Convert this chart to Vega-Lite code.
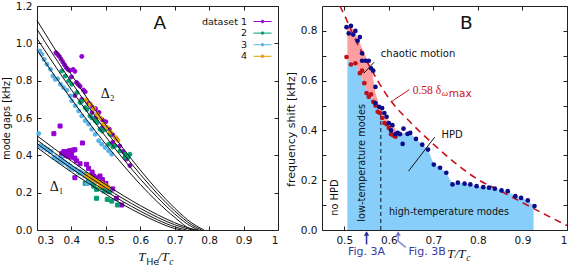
{
"$schema": "https://vega.github.io/schema/vega-lite/v6.json",
"background": "white",
"padding": {"left": 0, "top": 0, "right": 6, "bottom": 2},
"bounds": "flush",
"spacing": 44,
"resolve": {"scale": {"color": "independent", "fill": "independent", "shape": "independent"}, "legend": {"color": "independent"}},
"config": {
  "font": "DejaVu Sans",
  "view": {"stroke": "#222", "strokeWidth": 1},
  "axis": {"domain": false, "grid": false, "ticks": true, "tickSize": -4, "tickColor": "#222", "labelPadding": 9, "labelFont": "DejaVu Sans", "labelFontSize": 10.5, "labelColor": "#111", "titleFont": "DejaVu Sans", "titleFontWeight": "normal", "titleColor": "#111", "titleFontSize": 10, "titlePadding": 4}
},
"hconcat": [
{
  "width": 241, "height": 224,
  "resolve": {"axis": {"x": "independent", "y": "independent"}},
  "layer": [
    {
      "data": {"values": [
        {"x":0.355,"y":0.95,"set":"1","kind":"c"},{"x":0.36,"y":0.94,"set":"1","kind":"c"},{"x":0.365,"y":0.93,"set":"1","kind":"c"},{"x":0.37,"y":0.915,"set":"1","kind":"c"},{"x":0.375,"y":0.9,"set":"1","kind":"c"},{"x":0.38,"y":0.885,"set":"1","kind":"c"},{"x":0.385,"y":0.87,"set":"1","kind":"c"},{"x":0.39,"y":0.86,"set":"1","kind":"c"},{"x":0.395,"y":0.855,"set":"1","kind":"c"},{"x":0.405,"y":0.86,"set":"1","kind":"c"},{"x":0.41,"y":0.85,"set":"1","kind":"c"},{"x":0.4,"y":0.82,"set":"1","kind":"c"},{"x":0.43,"y":0.93,"set":"1","kind":"c"},{"x":0.415,"y":0.79,"set":"1","kind":"c"},{"x":0.42,"y":0.78,"set":"1","kind":"c"},{"x":0.425,"y":0.77,"set":"1","kind":"c"},{"x":0.435,"y":0.75,"set":"1","kind":"c"},{"x":0.44,"y":0.74,"set":"1","kind":"c"},{"x":0.41,"y":0.72,"set":"1","kind":"c"},{"x":0.43,"y":0.7,"set":"1","kind":"c"},{"x":0.45,"y":0.68,"set":"1","kind":"c"},{"x":0.46,"y":0.66,"set":"1","kind":"c"},{"x":0.47,"y":0.65,"set":"1","kind":"c"},{"x":0.46,"y":0.63,"set":"1","kind":"c"},{"x":0.48,"y":0.63,"set":"1","kind":"c"},{"x":0.47,"y":0.6,"set":"1","kind":"c"},{"x":0.49,"y":0.59,"set":"1","kind":"c"},{"x":0.5,"y":0.58,"set":"1","kind":"c"},{"x":0.49,"y":0.55,"set":"1","kind":"c"},{"x":0.51,"y":0.54,"set":"1","kind":"c"},{"x":0.52,"y":0.51,"set":"1","kind":"c"},{"x":0.53,"y":0.49,"set":"1","kind":"c"},{"x":0.52,"y":0.47,"set":"1","kind":"c"},{"x":0.54,"y":0.45,"set":"1","kind":"c"},{"x":0.55,"y":0.42,"set":"1","kind":"c"},{"x":0.56,"y":0.38,"set":"1","kind":"c"},{"x":0.57,"y":0.345,"set":"1","kind":"c"},
        {"x":0.372,"y":0.852,"set":"2","kind":"c"},{"x":0.382,"y":0.825,"set":"2","kind":"c"},{"x":0.392,"y":0.799,"set":"2","kind":"c"},{"x":0.401,"y":0.781,"set":"2","kind":"c"},{"x":0.416,"y":0.736,"set":"2","kind":"c"},{"x":0.425,"y":0.683,"set":"2","kind":"c"},{"x":0.43,"y":0.69,"set":"2","kind":"c"},{"x":0.44,"y":0.656,"set":"2","kind":"c"},{"x":0.445,"y":0.645,"set":"2","kind":"c"},{"x":0.454,"y":0.611,"set":"2","kind":"c"},{"x":0.46,"y":0.6,"set":"2","kind":"c"},{"x":0.469,"y":0.585,"set":"2","kind":"c"},{"x":0.475,"y":0.575,"set":"2","kind":"c"},{"x":0.483,"y":0.54,"set":"2","kind":"c"},{"x":0.49,"y":0.53,"set":"2","kind":"c"},{"x":0.498,"y":0.54,"set":"2","kind":"c"},{"x":0.512,"y":0.513,"set":"2","kind":"c"},{"x":0.508,"y":0.46,"set":"2","kind":"c"},{"x":0.52,"y":0.445,"set":"2","kind":"c"},{"x":0.527,"y":0.451,"set":"2","kind":"c"},{"x":0.541,"y":0.424,"set":"2","kind":"c"},{"x":0.556,"y":0.406,"set":"2","kind":"c"},{"x":0.555,"y":0.39,"set":"2","kind":"c"},{"x":0.565,"y":0.389,"set":"2","kind":"c"},{"x":0.57,"y":0.406,"set":"2","kind":"c"},
        {"x":0.308,"y":0.959,"set":"3","kind":"c"},{"x":0.314,"y":0.941,"set":"3","kind":"c"},{"x":0.321,"y":0.914,"set":"3","kind":"c"},{"x":0.329,"y":0.888,"set":"3","kind":"c"},{"x":0.339,"y":0.861,"set":"3","kind":"c"},{"x":0.346,"y":0.825,"set":"3","kind":"c"},{"x":0.353,"y":0.807,"set":"3","kind":"c"},{"x":0.36,"y":0.81,"set":"3","kind":"c"},{"x":0.368,"y":0.781,"set":"3","kind":"c"},{"x":0.377,"y":0.763,"set":"3","kind":"c"},{"x":0.387,"y":0.749,"set":"3","kind":"c"},{"x":0.397,"y":0.718,"set":"3","kind":"c"},{"x":0.401,"y":0.692,"set":"3","kind":"c"},{"x":0.411,"y":0.665,"set":"3","kind":"c"},{"x":0.421,"y":0.638,"set":"3","kind":"c"},{"x":0.43,"y":0.611,"set":"3","kind":"c"},{"x":0.44,"y":0.585,"set":"3","kind":"c"},{"x":0.45,"y":0.567,"set":"3","kind":"c"},{"x":0.459,"y":0.54,"set":"3","kind":"c"},{"x":0.469,"y":0.513,"set":"3","kind":"c"},{"x":0.479,"y":0.478,"set":"3","kind":"c"},{"x":0.488,"y":0.46,"set":"3","kind":"c"},{"x":0.498,"y":0.442,"set":"3","kind":"c"},{"x":0.508,"y":0.424,"set":"3","kind":"c"},{"x":0.517,"y":0.406,"set":"3","kind":"c"},{"x":0.305,"y":0.517,"set":"3","kind":"c"},
        {"x":0.443,"y":0.697,"set":"4","kind":"c"},{"x":0.455,"y":0.675,"set":"4","kind":"c"},{"x":0.465,"y":0.65,"set":"4","kind":"c"},{"x":0.474,"y":0.62,"set":"4","kind":"c"},{"x":0.484,"y":0.6,"set":"4","kind":"c"},{"x":0.493,"y":0.567,"set":"4","kind":"c"},{"x":0.503,"y":0.55,"set":"4","kind":"c"},{"x":0.513,"y":0.525,"set":"4","kind":"c"},{"x":0.527,"y":0.496,"set":"4","kind":"c"},{"x":0.535,"y":0.48,"set":"4","kind":"c"},
        {"x":0.349,"y":0.516,"set":"1","kind":"s"},{"x":0.367,"y":0.557,"set":"1","kind":"s"},{"x":0.432,"y":0.466,"set":"1","kind":"s"},{"x":0.41,"y":0.43,"set":"1","kind":"s"},{"x":0.372,"y":0.41,"set":"1","kind":"s"},{"x":0.378,"y":0.42,"set":"1","kind":"s"},{"x":0.385,"y":0.415,"set":"1","kind":"s"},{"x":0.39,"y":0.42,"set":"1","kind":"s"},{"x":0.395,"y":0.425,"set":"1","kind":"s"},{"x":0.4,"y":0.41,"set":"1","kind":"s"},{"x":0.405,"y":0.428,"set":"1","kind":"s"},{"x":0.38,"y":0.4,"set":"1","kind":"s"},{"x":0.39,"y":0.395,"set":"1","kind":"s"},{"x":0.4,"y":0.39,"set":"1","kind":"s"},{"x":0.41,"y":0.385,"set":"1","kind":"s"},{"x":0.415,"y":0.37,"set":"1","kind":"s"},{"x":0.425,"y":0.355,"set":"1","kind":"s"},{"x":0.444,"y":0.352,"set":"1","kind":"s"},{"x":0.45,"y":0.33,"set":"1","kind":"s"},{"x":0.46,"y":0.31,"set":"1","kind":"s"},{"x":0.464,"y":0.289,"set":"1","kind":"s"},{"x":0.475,"y":0.28,"set":"1","kind":"s"},{"x":0.483,"y":0.289,"set":"1","kind":"s"},{"x":0.49,"y":0.27,"set":"1","kind":"s"},{"x":0.5,"y":0.25,"set":"1","kind":"s"},{"x":0.459,"y":0.253,"set":"1","kind":"s"},{"x":0.41,"y":0.28,"set":"1","kind":"s"},{"x":0.507,"y":0.209,"set":"1","kind":"s"},{"x":0.52,"y":0.22,"set":"1","kind":"s"},{"x":0.531,"y":0.17,"set":"1","kind":"s"},{"x":0.546,"y":0.134,"set":"1","kind":"s"},
        {"x":0.425,"y":0.307,"set":"2","kind":"s"},{"x":0.44,"y":0.298,"set":"2","kind":"s"},{"x":0.45,"y":0.27,"set":"2","kind":"s"},{"x":0.455,"y":0.255,"set":"2","kind":"s"},{"x":0.465,"y":0.235,"set":"2","kind":"s"},{"x":0.473,"y":0.218,"set":"2","kind":"s"},{"x":0.488,"y":0.227,"set":"2","kind":"s"},{"x":0.495,"y":0.21,"set":"2","kind":"s"},{"x":0.51,"y":0.205,"set":"2","kind":"s"},{"x":0.473,"y":0.17,"set":"2","kind":"s"},{"x":0.504,"y":0.164,"set":"2","kind":"s"},{"x":0.517,"y":0.155,"set":"2","kind":"s"},{"x":0.534,"y":0.134,"set":"2","kind":"s"},{"x":0.44,"y":0.25,"set":"2","kind":"s"},
        {"x":0.31,"y":0.45,"set":"3","kind":"s"},{"x":0.32,"y":0.44,"set":"3","kind":"s"},{"x":0.33,"y":0.43,"set":"3","kind":"s"},{"x":0.34,"y":0.42,"set":"3","kind":"s"},{"x":0.35,"y":0.39,"set":"3","kind":"s"},{"x":0.36,"y":0.38,"set":"3","kind":"s"},{"x":0.365,"y":0.37,"set":"3","kind":"s"},{"x":0.37,"y":0.385,"set":"3","kind":"s"},{"x":0.375,"y":0.365,"set":"3","kind":"s"},{"x":0.38,"y":0.36,"set":"3","kind":"s"},{"x":0.39,"y":0.35,"set":"3","kind":"s"},{"x":0.395,"y":0.34,"set":"3","kind":"s"},{"x":0.4,"y":0.33,"set":"3","kind":"s"},{"x":0.41,"y":0.325,"set":"3","kind":"s"},{"x":0.42,"y":0.315,"set":"3","kind":"s"},{"x":0.43,"y":0.305,"set":"3","kind":"s"},{"x":0.44,"y":0.29,"set":"3","kind":"s"},{"x":0.45,"y":0.28,"set":"3","kind":"s"},{"x":0.46,"y":0.265,"set":"3","kind":"s"},{"x":0.445,"y":0.25,"set":"3","kind":"s"},
        {"x":0.445,"y":0.29,"set":"4","kind":"s"},{"x":0.455,"y":0.28,"set":"4","kind":"s"},{"x":0.465,"y":0.27,"set":"4","kind":"s"},{"x":0.475,"y":0.26,"set":"4","kind":"s"},{"x":0.485,"y":0.25,"set":"4","kind":"s"},{"x":0.495,"y":0.24,"set":"4","kind":"s"},{"x":0.505,"y":0.23,"set":"4","kind":"s"},{"x":0.485,"y":0.235,"set":"4","kind":"s"}
      ]},
      "mark": {"type": "point", "filled": false, "size": 16, "strokeWidth": 1, "opacity": 1},
      "encoding": {
        "x": {"field": "x", "type": "quantitative", "scale": {"domain": [0.3, 1], "nice": false, "zero": false}, "axis": {"values": [0.3,0.4,0.5,0.6,0.7,0.8,0.9,1], "labelExpr": "datum.value == 1 ? '1' : format(datum.value, '.1f')", "title": null}},
        "y": {"field": "y", "type": "quantitative", "scale": {"domain": [0, 1.2], "nice": false, "zero": false}, "axis": {"values": [0,0.2,0.4,0.6,0.8,1,1.2], "format": ".1f", "title": "mode gaps [kHz]", "titleFontSize": 9.7}},
        "color": {"field": "set", "type": "nominal", "scale": {"domain": ["1","2","3","4"], "range": ["#9400d3","#009e73","#56b4e9","#e69f00"]},
          "legend": {"orient": "top-right", "title": " ", "titleFontSize": 1, "titlePadding": 4, "offset": 4, "padding": 0, "symbolType": "M-1.5,0H1.5M0.22,0A0.22,0.22,0,1,1,-0.22,0A0.22,0.22,0,1,1,0.22,0Z", "symbolSize": 144, "symbolStrokeWidth": 1, "labelAlign": "right", "labelOffset": -22, "labelFontSize": 9.5, "labelColor": "#111", "rowPadding": 0.6, "labelExpr": "datum.value == '1' ? 'dataset 1' : datum.value"}},
        "fill": {"field": "set", "type": "nominal", "scale": {"domain": ["1","2","3","4"], "range": ["#9400d3","#009e73","#56b4e9","#e69f00"]}, "legend": null},
        "shape": {"field": "kind", "type": "nominal", "scale": {"domain": ["c","s"], "range": ["circle","square"]}, "legend": null}
      }
    },
    {
      "data": {"values": [
        {"c":"a1","x":0.3,"y":1.123},{"c":"a1","x":0.35,"y":0.975},{"c":"a1","x":0.4,"y":0.832},{"c":"a1","x":0.45,"y":0.694},{"c":"a1","x":0.5,"y":0.563},{"c":"a1","x":0.55,"y":0.438},{"c":"a1","x":0.6,"y":0.321},{"c":"a1","x":0.65,"y":0.213},{"c":"a1","x":0.7,"y":0.117},{"c":"a1","x":0.75,"y":0.037},{"c":"a1","x":0.785,"y":0},
        {"c":"a2","x":0.3,"y":1.075},{"c":"a2","x":0.35,"y":0.931},{"c":"a2","x":0.4,"y":0.792},{"c":"a2","x":0.45,"y":0.659},{"c":"a2","x":0.5,"y":0.531},{"c":"a2","x":0.55,"y":0.411},{"c":"a2","x":0.6,"y":0.298},{"c":"a2","x":0.65,"y":0.194},{"c":"a2","x":0.7,"y":0.102},{"c":"a2","x":0.75,"y":0.027},{"c":"a2","x":0.778,"y":0},
        {"c":"a3","x":0.3,"y":1.025},{"c":"a3","x":0.35,"y":0.886},{"c":"a3","x":0.4,"y":0.751},{"c":"a3","x":0.45,"y":0.622},{"c":"a3","x":0.5,"y":0.499},{"c":"a3","x":0.55,"y":0.382},{"c":"a3","x":0.6,"y":0.273},{"c":"a3","x":0.65,"y":0.174},{"c":"a3","x":0.7,"y":0.086},{"c":"a3","x":0.75,"y":0.017},{"c":"a3","x":0.77,"y":0},
        {"c":"a4","x":0.3,"y":0.964},{"c":"a4","x":0.35,"y":0.83},{"c":"a4","x":0.4,"y":0.701},{"c":"a4","x":0.45,"y":0.577},{"c":"a4","x":0.5,"y":0.459},{"c":"a4","x":0.55,"y":0.348},{"c":"a4","x":0.6,"y":0.244},{"c":"a4","x":0.65,"y":0.15},{"c":"a4","x":0.7,"y":0.068},{"c":"a4","x":0.75,"y":0.003},{"c":"a4","x":0.76,"y":0},
        {"c":"b1","x":0.3,"y":0.505},{"c":"b1","x":0.35,"y":0.436},{"c":"b1","x":0.4,"y":0.369},{"c":"b1","x":0.45,"y":0.304},{"c":"b1","x":0.5,"y":0.243},{"c":"b1","x":0.55,"y":0.185},{"c":"b1","x":0.6,"y":0.131},{"c":"b1","x":0.65,"y":0.082},{"c":"b1","x":0.7,"y":0.039},{"c":"b1","x":0.75,"y":0.006},{"c":"b1","x":0.765,"y":0},
        {"c":"b2","x":0.3,"y":0.482},{"c":"b2","x":0.35,"y":0.414},{"c":"b2","x":0.4,"y":0.348},{"c":"b2","x":0.45,"y":0.285},{"c":"b2","x":0.5,"y":0.225},{"c":"b2","x":0.55,"y":0.168},{"c":"b2","x":0.6,"y":0.116},{"c":"b2","x":0.65,"y":0.068},{"c":"b2","x":0.7,"y":0.028},{"c":"b2","x":0.75,"y":0},
        {"c":"b3","x":0.3,"y":0.463},{"c":"b3","x":0.35,"y":0.395},{"c":"b3","x":0.4,"y":0.33},{"c":"b3","x":0.45,"y":0.267},{"c":"b3","x":0.5,"y":0.208},{"c":"b3","x":0.55,"y":0.152},{"c":"b3","x":0.6,"y":0.101},{"c":"b3","x":0.65,"y":0.055},{"c":"b3","x":0.7,"y":0.017},{"c":"b3","x":0.735,"y":0},
        {"c":"b4","x":0.3,"y":0.442},{"c":"b4","x":0.35,"y":0.375},{"c":"b4","x":0.4,"y":0.31},{"c":"b4","x":0.45,"y":0.249},{"c":"b4","x":0.5,"y":0.191},{"c":"b4","x":0.55,"y":0.136},{"c":"b4","x":0.6,"y":0.087},{"c":"b4","x":0.65,"y":0.043},{"c":"b4","x":0.7,"y":0.008},{"c":"b4","x":0.72,"y":0}
      ]},
      "mark": {"type": "line", "color": "#111", "strokeWidth": 1, "interpolate": "monotone"},
      "encoding": {
        "x": {"field": "x", "type": "quantitative", "scale": {"domain": [0.3, 1], "nice": false, "zero": false}, "axis": {"orient": "top", "values": [0.3,0.4,0.5,0.6,0.7,0.8,0.9,1], "labels": false, "title": null}},
        "y": {"field": "y", "type": "quantitative", "scale": {"domain": [0, 1.2], "nice": false, "zero": false}, "axis": {"orient": "right", "values": [0,0.2,0.4,0.6,0.8,1,1.2], "labels": false, "title": null}},
        "detail": {"field": "c", "type": "nominal"}
      }
    },
    {
      "data": {"values": [{"t": "A", "x": 0.657, "y": 1.111}]},
      "mark": {"type": "text", "fontSize": 18.5, "font": "DejaVu Sans", "align": "center", "baseline": "middle", "color": "#111"},
      "encoding": {"x": {"field": "x", "type": "quantitative", "axis": null}, "y": {"field": "y", "type": "quantitative", "axis": null}, "text": {"field": "t"}}
    },
    {
      "data": {"values": [{"t": "Δ₂", "x": 0.505, "y": 0.731}, {"t": "Δ₁", "x": 0.357, "y": 0.23}]},
      "mark": {"type": "text", "fontSize": 14, "font": "Liberation Serif", "align": "center", "baseline": "middle", "color": "#111"},
      "encoding": {"x": {"field": "x", "type": "quantitative", "axis": null}, "y": {"field": "y", "type": "quantitative", "axis": null}, "text": {"field": "t"}}
    },
    {
      "data": {"values": [{"t": "T", "x": 0.594, "y": -0.166}, {"t": "/T", "x": 0.651, "y": -0.166}]},
      "mark": {"type": "text", "fontSize": 13, "font": "Liberation Serif", "fontStyle": "italic", "align": "left", "baseline": "alphabetic", "color": "#111"},
      "encoding": {"x": {"field": "x", "type": "quantitative", "axis": null}, "y": {"field": "y", "type": "quantitative", "axis": null}, "text": {"field": "t"}}
    },
    {
      "data": {"values": [{"t": "He", "x": 0.617, "y": -0.186}]},
      "mark": {"type": "text", "fontSize": 9.5, "font": "DejaVu Sans", "align": "left", "baseline": "alphabetic", "color": "#111"},
      "encoding": {"x": {"field": "x", "type": "quantitative", "axis": null}, "y": {"field": "y", "type": "quantitative", "axis": null}, "text": {"field": "t"}}
    },
    {
      "data": {"values": [{"t": "c", "x": 0.684, "y": -0.186}]},
      "mark": {"type": "text", "fontSize": 9.5, "font": "Liberation Serif", "fontStyle": "italic", "align": "left", "baseline": "alphabetic", "color": "#111"},
      "encoding": {"x": {"field": "x", "type": "quantitative", "axis": null}, "y": {"field": "y", "type": "quantitative", "axis": null}, "text": {"field": "t"}}
    }
  ]
},
{
  "width": 245, "height": 224,
  "resolve": {"axis": {"x": "independent", "y": "independent"}},
  "layer": [
    {
      "data": {"name": "areaB", "values": [
        {"x":0.507,"lo":0.69,"hi":0.815},{"x":0.515,"lo":0.665,"hi":0.82},{"x":0.525,"lo":0.665,"hi":0.79},{"x":0.535,"lo":0.63,"hi":0.75},{"x":0.545,"lo":0.59,"hi":0.71},{"x":0.555,"lo":0.54,"hi":0.67},{"x":0.563,"lo":0.53,"hi":0.63},{"x":0.57,"lo":0.5,"hi":0.55},{"x":0.578,"lo":0.48,"hi":0.5},{"x":0.59,"lo":0.43,"hi":0.465},{"x":0.6,"lo":0.41,"hi":0.44},{"x":0.61,"lo":0.38,"hi":0.42},{"x":0.62,"lo":0.38,"hi":0.39},{"x":0.635,"lo":0.39,"hi":0.39},{"x":0.648,"lo":0.39,"hi":0.39},{"x":0.661,"lo":0.366,"hi":0.366},{"x":0.675,"lo":0.343,"hi":0.343},{"x":0.688,"lo":0.323,"hi":0.323},{"x":0.701,"lo":0.263,"hi":0.263},{"x":0.715,"lo":0.25,"hi":0.25},{"x":0.729,"lo":0.23,"hi":0.23},{"x":0.743,"lo":0.183,"hi":0.183},{"x":0.755,"lo":0.19,"hi":0.19},{"x":0.77,"lo":0.186,"hi":0.186},{"x":0.783,"lo":0.183,"hi":0.183},{"x":0.797,"lo":0.176,"hi":0.176},{"x":0.812,"lo":0.172,"hi":0.172},{"x":0.825,"lo":0.17,"hi":0.17},{"x":0.838,"lo":0.166,"hi":0.166},{"x":0.853,"lo":0.159,"hi":0.159},{"x":0.867,"lo":0.156,"hi":0.156},{"x":0.884,"lo":0.136,"hi":0.136},{"x":0.897,"lo":0.129,"hi":0.129},{"x":0.912,"lo":0.119,"hi":0.119},{"x":0.925,"lo":0.096,"hi":0.096}
      ]},
      "mark": {"type": "area", "color": "#87cefa", "opacity": 1},
      "encoding": {
        "x": {"field": "x", "type": "quantitative", "scale": {"domain": [0.45, 1], "nice": false, "zero": false}, "axis": {"values": [0.5,0.6,0.7,0.8,0.9,1], "labelExpr": "datum.value == 1 ? '1' : format(datum.value, '.1f')", "title": null}},
        "y": {"field": "lo", "type": "quantitative", "scale": {"domain": [0, 0.9], "nice": false, "zero": false}, "axis": {"values": [0,0.1,0.2,0.3,0.4,0.5,0.6,0.7,0.8], "labelExpr": "round(datum.value*10) % 2 == 0 ? format(datum.value, '.1f') : ''", "title": "frequency shift [kHz]", "titleFontSize": 11, "titleY": 123}},
        "y2": {"datum": 0}
      }
    },
    {
      "data": {"name": "areaB"},
      "mark": {"type": "area", "color": "#ff9e9e", "opacity": 1},
      "encoding": {
        "x": {"field": "x", "type": "quantitative", "axis": null},
        "y": {"field": "hi", "type": "quantitative", "axis": null},
        "y2": {"field": "lo"}
      }
    },
    {
      "data": {"values": [
        {"x":0.49,"y":0.9},{"x":0.5,"y":0.865},{"x":0.525,"y":0.765},{"x":0.55,"y":0.68},{"x":0.575,"y":0.6},{"x":0.6,"y":0.53},{"x":0.65,"y":0.43},{"x":0.7,"y":0.345},{"x":0.75,"y":0.268},{"x":0.8,"y":0.203},{"x":0.85,"y":0.157},{"x":0.9,"y":0.11},{"x":0.95,"y":0.063},{"x":1.0,"y":0.018}
      ]},
      "mark": {"type": "line", "color": "#c8101a", "strokeWidth": 1.6, "strokeDash": [7, 5], "interpolate": "monotone"},
      "encoding": {
        "x": {"field": "x", "type": "quantitative", "scale": {"domain": [0.45, 1], "nice": false, "zero": false}, "axis": {"orient": "top", "values": [0.5,0.6,0.7,0.8,0.9,1], "labels": false, "title": null}},
        "y": {"field": "y", "type": "quantitative", "scale": {"domain": [0, 0.9], "nice": false, "zero": false}, "axis": {"orient": "right", "values": [0,0.1,0.2,0.3,0.4,0.5,0.6,0.7,0.8], "labels": false, "title": null}}
      }
    },
    {
      "data": {"values": [{"x": 0.582, "y": 0, "y2": 0.47}]},
      "mark": {"type": "rule", "color": "#111", "strokeWidth": 1, "strokeDash": [4, 3]},
      "encoding": {"x": {"field": "x", "type": "quantitative", "axis": null}, "y": {"field": "y", "type": "quantitative", "axis": null}, "y2": {"field": "y2"}}
    },
    {
      "data": {"values": [
        {"x":0.505,"y":0.695},{"x":0.515,"y":0.665},{"x":0.525,"y":0.67},{"x":0.535,"y":0.63},{"x":0.54,"y":0.64},{"x":0.545,"y":0.59},{"x":0.55,"y":0.55},{"x":0.555,"y":0.535},{"x":0.56,"y":0.545},{"x":0.565,"y":0.515},{"x":0.57,"y":0.5},{"x":0.575,"y":0.475},{"x":0.58,"y":0.47},{"x":0.585,"y":0.45},{"x":0.59,"y":0.43},{"x":0.595,"y":0.425},{"x":0.6,"y":0.41},{"x":0.605,"y":0.385},{"x":0.61,"y":0.38},{"x":0.615,"y":0.375}
      ]},
      "mark": {"type": "point", "filled": true, "size": 22, "color": "#b8141c", "opacity": 1},
      "encoding": {"x": {"field": "x", "type": "quantitative", "axis": null}, "y": {"field": "y", "type": "quantitative", "axis": null}}
    },
    {
      "data": {"values": [
        {"x":0.505,"y":0.815},{"x":0.515,"y":0.82},{"x":0.51,"y":0.79},{"x":0.525,"y":0.8},{"x":0.52,"y":0.785},{"x":0.53,"y":0.76},{"x":0.535,"y":0.775},{"x":0.54,"y":0.71},{"x":0.54,"y":0.68},{"x":0.548,"y":0.68},{"x":0.555,"y":0.68},{"x":0.56,"y":0.65},{"x":0.565,"y":0.64},{"x":0.57,"y":0.575},{"x":0.57,"y":0.51},{"x":0.578,"y":0.495},{"x":0.585,"y":0.49},{"x":0.59,"y":0.47},{"x":0.595,"y":0.455},{"x":0.6,"y":0.43},{"x":0.605,"y":0.4},{"x":0.608,"y":0.421},{"x":0.615,"y":0.385},{"x":0.62,"y":0.39},{"x":0.625,"y":0.385},{"x":0.631,"y":0.346},{"x":0.633,"y":0.407},{"x":0.642,"y":0.386},{"x":0.648,"y":0.39},{"x":0.661,"y":0.366},{"x":0.675,"y":0.343},{"x":0.688,"y":0.323},{"x":0.701,"y":0.263},{"x":0.715,"y":0.25},{"x":0.729,"y":0.23},{"x":0.743,"y":0.183},{"x":0.755,"y":0.19},{"x":0.77,"y":0.186},{"x":0.783,"y":0.183},{"x":0.797,"y":0.176},{"x":0.812,"y":0.172},{"x":0.825,"y":0.17},{"x":0.838,"y":0.166},{"x":0.853,"y":0.159},{"x":0.867,"y":0.156},{"x":0.884,"y":0.136},{"x":0.897,"y":0.129},{"x":0.912,"y":0.119},{"x":0.927,"y":0.096}
      ]},
      "mark": {"type": "point", "filled": true, "size": 22, "color": "#0b0b8c", "opacity": 1},
      "encoding": {"x": {"field": "x", "type": "quantitative", "axis": null}, "y": {"field": "y", "type": "quantitative", "axis": null}}
    },
    {
      "data": {"values": [{"x": 0.544, "y": 0.63, "x2": 0.567, "y2": 0.674}, {"x": 0.644, "y": 0.236, "x2": 0.703, "y2": 0.373}]},
      "mark": {"type": "rule", "color": "#111", "strokeWidth": 1},
      "encoding": {"x": {"field": "x", "type": "quantitative", "axis": null}, "y": {"field": "y", "type": "quantitative", "axis": null}, "x2": {"field": "x2"}, "y2": {"field": "y2"}}
    },
    {
      "data": {"values": [{"x": 0.607, "y": 0.517, "x2": 0.646, "y2": 0.564}]},
      "mark": {"type": "rule", "color": "#c8101a", "strokeWidth": 1},
      "encoding": {"x": {"field": "x", "type": "quantitative", "axis": null}, "y": {"field": "y", "type": "quantitative", "axis": null}, "x2": {"field": "x2"}, "y2": {"field": "y2"}}
    },
    {
      "data": {"values": [{"t": "B", "x": 0.774, "y": 0.83}]},
      "mark": {"type": "text", "fontSize": 18.5, "font": "DejaVu Sans", "align": "center", "baseline": "middle", "color": "#111"},
      "encoding": {"x": {"field": "x", "type": "quantitative", "axis": null}, "y": {"field": "y", "type": "quantitative", "axis": null}, "text": {"field": "t"}}
    },
    {
      "data": {"values": [{"t": "chaotic motion", "x": 0.582, "y": 0.706}, {"t": "HPD", "x": 0.718, "y": 0.383}]},
      "mark": {"type": "text", "fontSize": 10, "font": "DejaVu Sans", "align": "left", "baseline": "middle", "color": "#111"},
      "encoding": {"x": {"field": "x", "type": "quantitative", "axis": null}, "y": {"field": "y", "type": "quantitative", "axis": null}, "text": {"field": "t"}}
    },
    {
      "data": {"values": [{"t": "high-temperature modes", "x": 0.735, "y": 0.073}]},
      "mark": {"type": "text", "fontSize": 9.6, "font": "DejaVu Sans", "align": "center", "baseline": "middle", "color": "#111"},
      "encoding": {"x": {"field": "x", "type": "quantitative", "axis": null}, "y": {"field": "y", "type": "quantitative", "axis": null}, "text": {"field": "t"}}
    },
    {
      "data": {"values": [{"t": "no HPD", "x": 0.48, "y": 0.13}, {"t": "low-temperature modes", "x": 0.54, "y": 0.27}]},
      "mark": {"type": "text", "fontSize": 9.8, "font": "DejaVu Sans", "align": "center", "baseline": "middle", "angle": 270, "color": "#111"},
      "encoding": {"x": {"field": "x", "type": "quantitative", "axis": null}, "y": {"field": "y", "type": "quantitative", "axis": null}, "text": {"field": "t"}}
    },
    {
      "data": {"values": [{"t": "0.58 δ", "x": 0.6536, "y": 0.545}]},
      "mark": {"type": "text", "fontSize": 11.5, "font": "Liberation Serif", "align": "left", "baseline": "alphabetic", "color": "#c8101a"},
      "encoding": {"x": {"field": "x", "type": "quantitative", "axis": null}, "y": {"field": "y", "type": "quantitative", "axis": null}, "text": {"field": "t"}}
    },
    {
      "data": {"values": [{"t": "ω", "x": 0.719, "y": 0.537}]},
      "mark": {"type": "text", "fontSize": 9, "font": "Liberation Serif", "fontStyle": "italic", "align": "left", "baseline": "alphabetic", "color": "#c8101a"},
      "encoding": {"x": {"field": "x", "type": "quantitative", "axis": null}, "y": {"field": "y", "type": "quantitative", "axis": null}, "text": {"field": "t"}}
    },
    {
      "data": {"values": [{"t": "max", "x": 0.7345, "y": 0.535}]},
      "mark": {"type": "text", "fontSize": 10.5, "font": "DejaVu Sans", "align": "left", "baseline": "alphabetic", "color": "#c8101a"},
      "encoding": {"x": {"field": "x", "type": "quantitative", "axis": null}, "y": {"field": "y", "type": "quantitative", "axis": null}, "text": {"field": "t"}}
    },
    {
      "data": {"values": [{"t": "Fig. 3A", "x": 0.55, "y": -0.1}, {"t": "Fig. 3B", "x": 0.686, "y": -0.1}]},
      "mark": {"type": "text", "fontSize": 11, "font": "DejaVu Sans", "align": "center", "baseline": "alphabetic", "color": "#3a3aa6"},
      "encoding": {"x": {"field": "x", "type": "quantitative", "axis": null}, "y": {"field": "y", "type": "quantitative", "axis": null}, "text": {"field": "t"}}
    },
    {
      "data": {"values": [{"x": 0.55, "y": -0.058, "y2": -0.01}]},
      "mark": {"type": "rule", "color": "#2a2a92", "strokeWidth": 1.5},
      "encoding": {"x": {"field": "x", "type": "quantitative", "axis": null}, "y": {"field": "y", "type": "quantitative", "axis": null}, "y2": {"field": "y2"}}
    },
    {
      "data": {"values": [{"x": 0.621, "y": -0.045, "x2": 0.621, "y2": -0.01}, {"x": 0.621, "y": -0.045, "x2": 0.638, "y2": -0.07}]},
      "mark": {"type": "rule", "color": "#8a8ad2", "strokeWidth": 1.5},
      "encoding": {"x": {"field": "x", "type": "quantitative", "axis": null}, "y": {"field": "y", "type": "quantitative", "axis": null}, "x2": {"field": "x2"}, "y2": {"field": "y2"}}
    },
    {
      "data": {"values": [{"x": 0.55, "y": -0.014}]},
      "mark": {"type": "point", "shape": "triangle-up", "filled": true, "size": 28, "color": "#2a2a92", "opacity": 1},
      "encoding": {"x": {"field": "x", "type": "quantitative", "axis": null}, "y": {"field": "y", "type": "quantitative", "axis": null}}
    },
    {
      "data": {"values": [{"x": 0.621, "y": -0.014}]},
      "mark": {"type": "point", "shape": "triangle-up", "filled": true, "size": 28, "color": "#7070c4", "opacity": 1},
      "encoding": {"x": {"field": "x", "type": "quantitative", "axis": null}, "y": {"field": "y", "type": "quantitative", "axis": null}}
    },
    {
      "data": {"values": [{"t": "T", "x": 0.731, "y": -0.112}, {"t": "/T", "x": 0.748, "y": -0.112}]},
      "mark": {"type": "text", "fontSize": 13, "font": "Liberation Serif", "fontStyle": "italic", "align": "left", "baseline": "alphabetic", "color": "#111"},
      "encoding": {"x": {"field": "x", "type": "quantitative", "axis": null}, "y": {"field": "y", "type": "quantitative", "axis": null}, "text": {"field": "t"}}
    },
    {
      "data": {"values": [{"t": "c", "x": 0.774, "y": -0.126}]},
      "mark": {"type": "text", "fontSize": 9.5, "font": "Liberation Serif", "fontStyle": "italic", "align": "left", "baseline": "alphabetic", "color": "#111"},
      "encoding": {"x": {"field": "x", "type": "quantitative", "axis": null}, "y": {"field": "y", "type": "quantitative", "axis": null}, "text": {"field": "t"}}
    }
  ]
}
]
}
